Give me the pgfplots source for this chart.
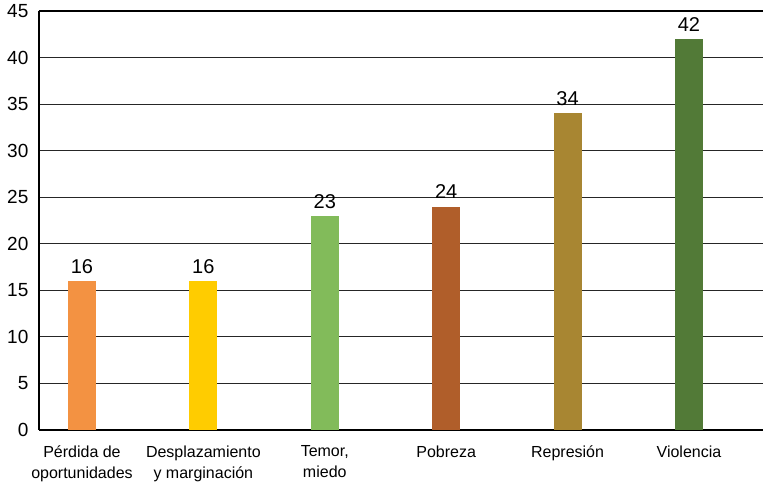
\documentclass[border=0pt]{standalone}
\usepackage{fontspec}
\setmainfont{Liberation Sans}
\usepackage{pgfplots}
\pgfplotsset{compat=1.18}

\definecolor{cOrange}{RGB}{243,146,66}
\definecolor{cYellow}{RGB}{255,204,0}
\definecolor{cGreen}{RGB}{130,187,90}
\definecolor{cBrown}{RGB}{176,94,42}
\definecolor{cGold}{RGB}{168,134,50}
\definecolor{cDark}{RGB}{82,122,55}

\begin{document}
\begin{tikzpicture}
\useasboundingbox (-39pt,-56pt) rectangle (724pt,430pt);
\begin{axis}[
    scale only axis,
    width=724pt,
    height=419pt,
    ybar,
    bar width=28pt,
    bar shift=0pt,
    xmin=-0.354, xmax=5.61,
    ymin=0, ymax=45,
    ytick={0,5,...,45},
    xtick={0,1,2,3,4,5},
    xticklabels={{Pérdida de\\oportunidades},{Desplazamiento\\y marginación},{Temor,\\miedo},Pobreza,Represión,Violencia},
    x tick label style={align=center, font=\fontsize{16}{21}\selectfont, yshift=-8pt},
    y tick label style={font=\fontsize{19}{20}\selectfont, xshift=-5pt},
    /pgf/number format/assume math mode=true,
    axis x line=box,
    axis y line=left,
    axis line style={-, line width=2pt, black},
    major tick style={draw=none},
    ymajorgrids,
    grid style={black!85, line width=1.2pt},
    nodes near coords,
    every node near coord/.append style={font=\fontsize{20}{20}\selectfont, black, yshift=4pt},
]
\addplot[fill=cOrange, draw=none] coordinates {(0,16)};
\addplot[fill=cYellow, draw=none] coordinates {(1,16)};
\addplot[fill=cGreen, draw=none] coordinates {(2,23)};
\addplot[fill=cBrown, draw=none] coordinates {(3,24)};
\addplot[fill=cGold, draw=none] coordinates {(4,34)};
\addplot[fill=cDark, draw=none] coordinates {(5,42)};
\end{axis}
\end{tikzpicture}
\end{document}
